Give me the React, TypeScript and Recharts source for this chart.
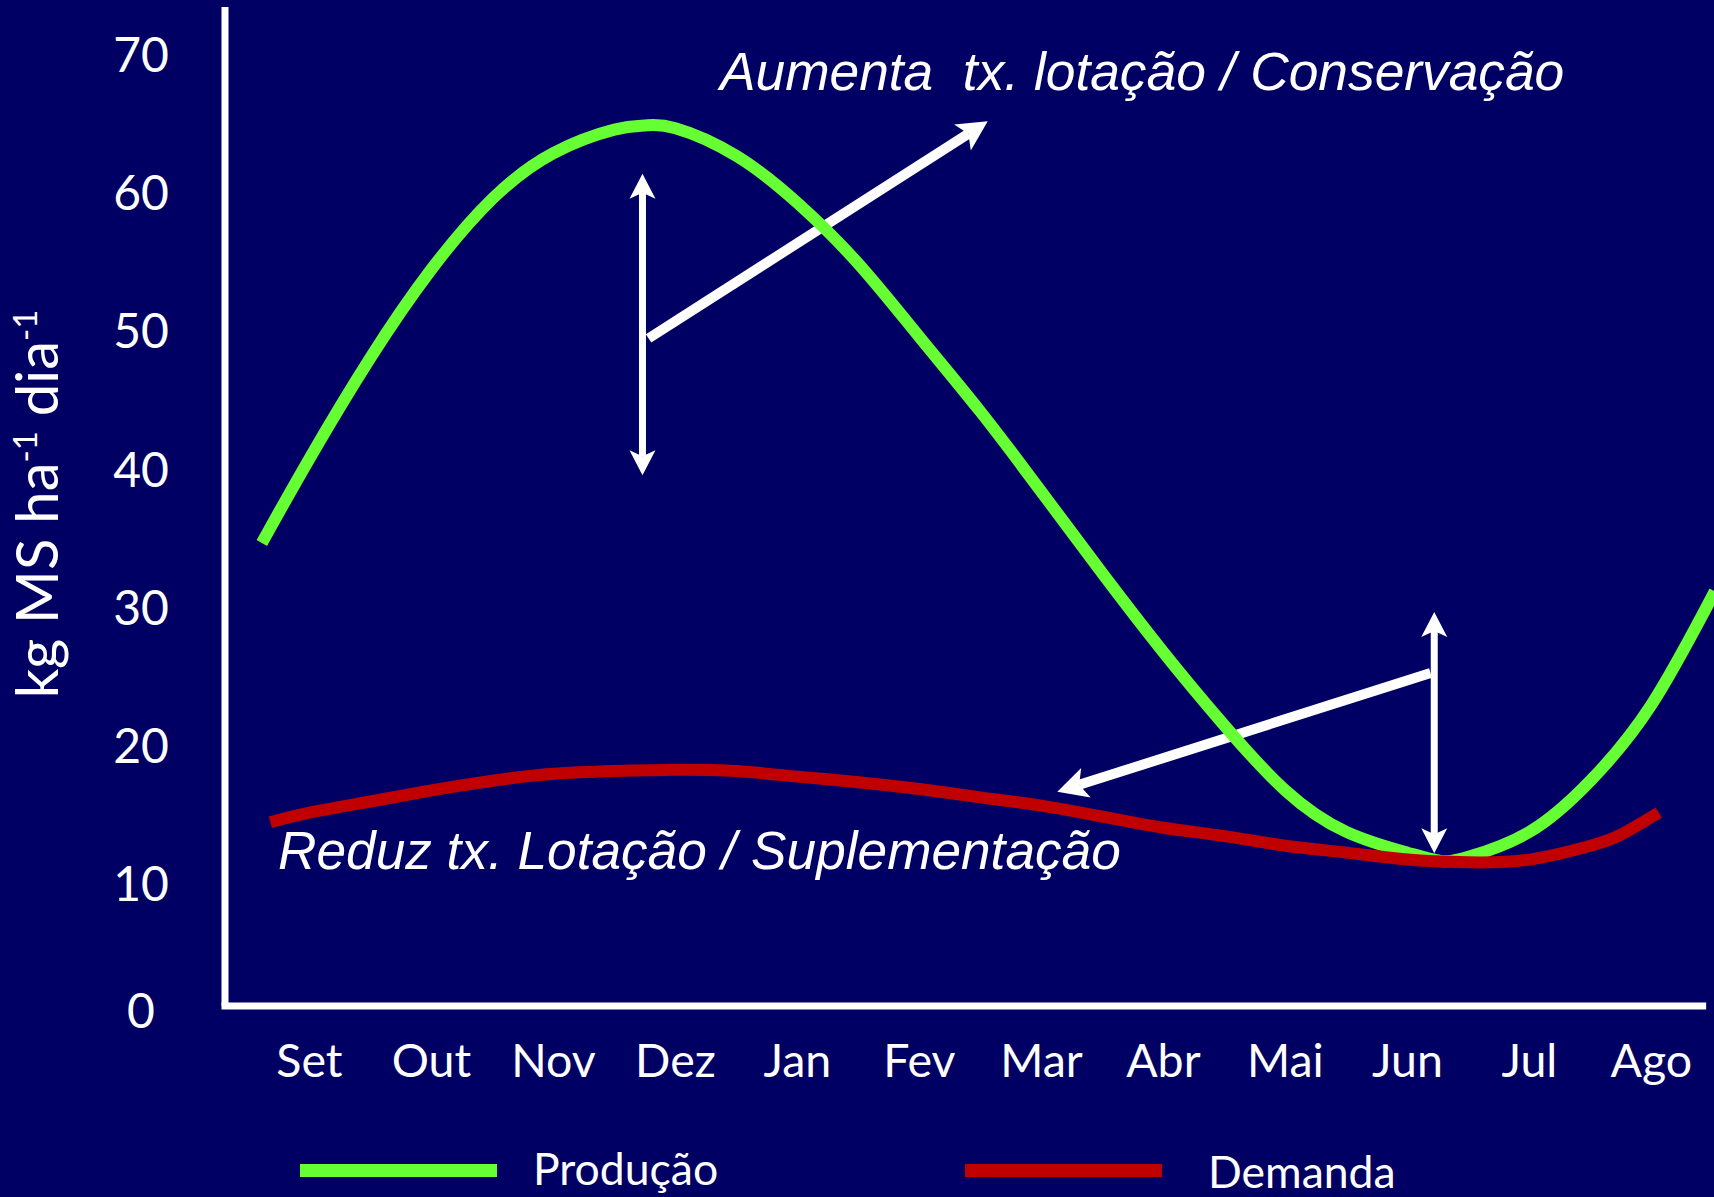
import { LineChart, Line, XAxis, YAxis, ReferenceLine, ReferenceDot, Legend } from 'recharts';

const MONTHS = ['Set', 'Out', 'Nov', 'Dez', 'Jan', 'Fev', 'Mar', 'Abr', 'Mai', 'Jun', 'Jul', 'Ago'];
const Y_TICKS = [0, 10, 20, 30, 40, 50, 60, 70];

// x = month position (0 = Set), y = kg MS ha-1 dia-1
const PRODUCAO_X = [-0.39, 0, 0.5, 1, 1.5, 2, 2.5, 2.75, 3, 3.5, 4, 4.5, 5, 5.5, 6, 6.5, 7, 7.5, 8, 8.5, 9, 9.27, 9.5, 10, 10.5, 11, 11.52];
const PRODUCAO = [34.7, 40.8, 48.1, 54.5, 59.6, 62.9, 64.6, 64.9, 64.7, 62.7, 59.3, 54.9, 49.6, 44.2, 38.4, 32.5, 26.8, 21.5, 16.8, 13.8, 12.3, 11.7, 12.0, 13.8, 17.5, 23.0, 31.2];

const DEMANDA_X = [-0.32, 0, 0.5, 1, 1.5, 2, 2.5, 3, 3.5, 4, 4.5, 5, 5.5, 6, 6.5, 7, 7.5, 8, 8.5, 9, 9.5, 10, 10.5, 10.75, 11.06];
const DEMANDA = [14.5, 15.2, 16.0, 16.8, 17.5, 18.0, 18.2, 18.3, 18.2, 17.8, 17.4, 16.9, 16.3, 15.7, 14.9, 14.1, 13.5, 12.8, 12.3, 11.8, 11.6, 11.8, 12.8, 13.6, 15.2];

// annotations, in chart units
const SEASON_MAX = { x: 2.73, low: 39.6, high: 61.4 };
const SEASON_MIN = { x: 9.22, low: 12.25, high: 29.7 };
const ARROW_UP = [{ x: 2.78, y: 49.5 }, { x: 5.56, y: 65.2 }];
const ARROW_DOWN = [{ x: 9.19, y: 25.3 }, { x: 6.13, y: 16.7 }];
const NOTE_UP = { x: 3.365, y: 67.46, text: 'Aumenta  tx. lotação / Conservação' };
const NOTE_DOWN = { x: -0.257, y: 11.1, text: 'Reduz tx. Lotação / Suplementação' };

const X_DOMAIN = [-0.692, 11.513];
const Y_DOMAIN = [0, 73.47];
const BASE_Y = 1.21;
const AXIS_END_X = 11.42;

const W = 1714;
const H = 1197;
const BG = '#000064';
const GREEN = '#66FF33';
const RED = '#C00000';
const FONT = 'Lato, "Open Sans", sans-serif';

function makeArrow(head: number, half: number, notch: number, width: number, both: boolean) {
  return (p: any) => {
    const { x1, y1, x2, y2 } = p;
    const len = Math.hypot(x2 - x1, y2 - y1) || 1;
    const ux = (x2 - x1) / len;
    const uy = (y2 - y1) / len;
    const tip = (tx: number, ty: number, vx: number, vy: number) => {
      const bx = tx - vx * head;
      const by = ty - vy * head;
      const nx = -vy;
      const ny = vx;
      return `${tx},${ty} ${bx + nx * half},${by + ny * half} ${tx - vx * notch},${ty - vy * notch} ${bx - nx * half},${by - ny * half}`;
    };
    const sx = both ? x1 + ux * notch : x1;
    const sy = both ? y1 + uy * notch : y1;
    return (
      <g>
        <line x1={sx} y1={sy} x2={x2 - ux * notch} y2={y2 - uy * notch} stroke="#fff" strokeWidth={width} />
        <polygon points={tip(x2, y2, ux, uy)} fill="#fff" />
        {both && <polygon points={tip(x1, y1, -ux, -uy)} fill="#fff" />}
      </g>
    );
  };
}

const doubleArrow = makeArrow(25, 13, 19, 7, true);
const thickArrow = makeArrow(30, 15.5, 23, 10, false);

const noteShape = (text: string, size: number) => (p: any) => (
  <text
    x={p.cx}
    y={p.cy}
    fill="#fff"
    fontFamily='"Liberation Sans", Arial, sans-serif'
    fontStyle="italic"
    fontSize={size}
    xmlSpace="preserve"
    style={{ whiteSpace: 'pre' }}
  >
    {text}
  </text>
);

const LEGEND_POS: Record<string, { bar: number; text: number; base: number }> = {
  'Produção': { bar: 300, text: 533, base: 45 },
  Demanda: { bar: 965, text: 1208, base: 48 },
};

function renderLegend(props: any) {
  const items = props.payload || [];
  return (
    <svg width={W} height={60} style={{ position: 'absolute', left: 0, top: 0, overflow: 'visible' }}>
      {items.map((item: any) => {
        const pos = LEGEND_POS[item.value];
        if (!pos) return null;
        return (
          <g key={item.value}>
            <rect x={pos.bar} y={24} width={197} height={13} fill={item.color} />
            <text x={pos.text} y={pos.base} fill="#fff" fontFamily={FONT} fontSize={44.5}>
              {item.value}
            </text>
          </g>
        );
      })}
    </svg>
  );
}

export default function App() {
  const producao = PRODUCAO_X.map((x, i) => ({ x, y: PRODUCAO[i] }));
  const demanda = DEMANDA_X.map((x, i) => ({ x, y: DEMANDA[i] }));

  return (
    <div style={{ position: 'absolute', left: 0, top: 0, width: W, height: H, background: BG, overflow: 'hidden' }}>
      <LineChart width={W} height={H} margin={{ top: 7, right: 0, bottom: 74.3, left: 0 }}>
        <XAxis
          type="number"
          dataKey="x"
          domain={X_DOMAIN}
          allowDataOverflow
          ticks={MONTHS.map((_, i) => i)}
          interval={0}
          axisLine={false}
          tickLine={false}
          tickSize={0}
          tickMargin={0}
          height={100}
          tick={(p: any) => (
            <text x={p.x} y={p.y + 54} textAnchor="middle" fill="#fff" fontFamily={FONT} fontSize={46.5}>
              {MONTHS[p.payload.value]}
            </text>
          )}
        />
        <YAxis
          type="number"
          domain={Y_DOMAIN}
          allowDataOverflow
          ticks={Y_TICKS}
          interval={0}
          axisLine={false}
          tickLine={false}
          tickSize={0}
          tickMargin={0}
          width={225}
          tick={(p: any) => (
            // the "0" sits just under the baseline in the original
            <text
              x={p.x - 84}
              y={p.y + (p.payload.value === 0 ? 5 : 17)}
              textAnchor="middle"
              fill="#fff"
              fontFamily={FONT}
              fontSize={48}
            >
              {p.payload.value}
            </text>
          )}
        />

        <ReferenceLine
          segment={[{ x: X_DOMAIN[0], y: BASE_Y }, { x: AXIS_END_X, y: BASE_Y }]}
          stroke="#fff"
          strokeWidth={7}
          strokeLinecap="square"
          ifOverflow="visible"
        />
        <ReferenceLine
          segment={[{ x: X_DOMAIN[0], y: BASE_Y }, { x: X_DOMAIN[0], y: Y_DOMAIN[1] }]}
          stroke="#fff"
          strokeWidth={7}
          ifOverflow="visible"
        />

        <ReferenceLine
          segment={[{ x: SEASON_MAX.x, y: SEASON_MAX.low }, { x: SEASON_MAX.x, y: SEASON_MAX.high }]}
          ifOverflow="visible"
          shape={doubleArrow}
        />
        <ReferenceLine
          segment={[{ x: SEASON_MIN.x, y: SEASON_MIN.low }, { x: SEASON_MIN.x, y: SEASON_MIN.high }]}
          ifOverflow="visible"
          shape={doubleArrow}
        />
        <ReferenceLine segment={ARROW_UP} ifOverflow="visible" shape={thickArrow} />
        <ReferenceLine segment={ARROW_DOWN} ifOverflow="visible" shape={thickArrow} />

        <Line
          data={producao}
          dataKey="y"
          name="Produção"
          type="natural"
          stroke={GREEN}
          strokeWidth={12}
          dot={false}
          activeDot={false}
          isAnimationActive={false}
        />
        <Line
          data={demanda}
          dataKey="y"
          name="Demanda"
          type="natural"
          stroke={RED}
          strokeWidth={12}
          dot={false}
          activeDot={false}
          isAnimationActive={false}
        />

        <ReferenceDot x={NOTE_UP.x} y={NOTE_UP.y} r={0} ifOverflow="visible" shape={noteShape(NOTE_UP.text, 53.3)} />
        <ReferenceDot x={NOTE_DOWN.x} y={NOTE_DOWN.y} r={0} ifOverflow="visible" shape={noteShape(NOTE_DOWN.text, 53.2)} />

        <Legend
          verticalAlign="bottom"
          content={renderLegend}
          wrapperStyle={{ left: 0, top: 1140, bottom: 'auto', width: W, height: 0, overflow: 'visible' }}
        />
      </LineChart>

      <svg width={120} height={H} style={{ position: 'absolute', left: 0, top: 0 }}>
        <text transform="rotate(-90)" x={-504} y={58} textAnchor="middle" fill="#fff" fontFamily={FONT} fontSize={58}>
          kg MS ha
          <tspan dy={-21} fontSize={33}>-1</tspan>
          <tspan dy={21}> dia</tspan>
          <tspan dy={-21} fontSize={33}>-1</tspan>
        </text>
      </svg>
    </div>
  );
}
